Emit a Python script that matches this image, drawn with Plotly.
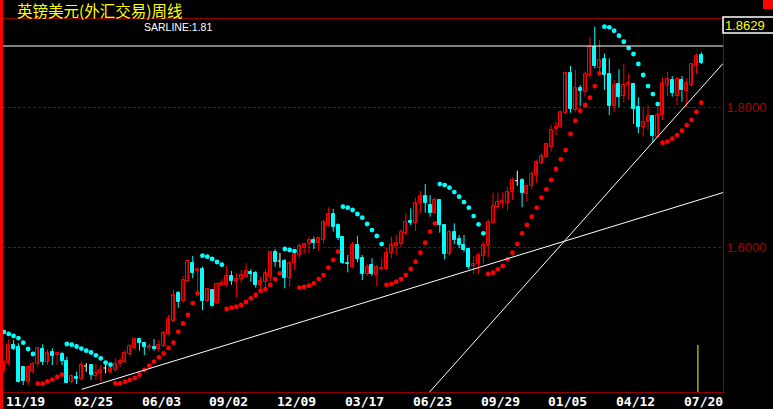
import plotly.graph_objects as go

# ---------------- data (weekly GBP/USD) ----------------
date_labels = ["11/19", "02/25", "06/03", "09/02", "12/09", "03/17",
               "06/23", "09/29", "01/05", "04/12", "07/20"]
date_label_idx = [0, 14, 28, 42, 56, 70, 84, 98, 112, 126, 140]

opens = [1.4233,1.4352,1.4604,1.4580,1.4286,1.4080,1.4233,1.4329,1.4543,1.4366,
1.4500,1.4462,1.4476,1.4376,1.4072,1.4152,1.4114,1.4304,1.4319,1.4166,
1.4200,1.4276,1.4223,1.4247,1.4333,1.4366,1.4469,1.4557,1.4690,1.4629,
1.4557,1.4580,1.4543,1.4590,1.4762,1.4952,1.5343,1.5233,1.5523,1.5772,
1.5662,1.5690,1.5233,1.5390,1.5209,1.5462,1.5462,1.5590,1.5500,1.5543,
1.5580,1.5652,1.5637,1.5462,1.5500,1.5580,1.5929,1.5804,1.5804,1.5566,
1.5772,1.5890,1.5994,1.6043,1.6104,1.6066,1.6104,1.6319,1.6476,1.6319,
1.6152,1.5780,1.5723,1.6033,1.5847,1.5619,1.5747,1.5604,1.5686,1.5694,
1.5923,1.6019,1.6047,1.6209,1.6380,1.6352,1.6637,1.6733,1.6604,1.6494,
1.6676,1.6319,1.5904,1.6223,1.6119,1.6033,1.5972,1.5733,1.5762,1.5876,
1.6033,1.6352,1.6580,1.6629,1.6637,1.6794,1.6952,1.6962,1.6757,1.6880,
1.7033,1.7209,1.7294,1.7429,1.7686,1.7714,1.7923,1.8494,1.7962,1.8280,
1.8223,1.8462,1.8866,1.8557,1.8686,1.8476,1.8019,1.8333,1.8162,1.8319,
1.8333,1.8000,1.7714,1.7794,1.7876,1.7580,1.7890,1.8319,1.8390,1.8162,
1.8390,1.8237,1.8319,1.8594,1.8747]

highs = [1.4390,1.4686,1.4676,1.4629,1.4290,1.4304,1.4366,1.4566,1.4614,1.4543,
1.4557,1.4490,1.4509,1.4437,1.4186,1.4223,1.4366,1.4347,1.4329,1.4329,
1.4319,1.4329,1.4294,1.4414,1.4423,1.4533,1.4619,1.4704,1.4709,1.4643,
1.4623,1.4690,1.4676,1.4809,1.5033,1.5400,1.5376,1.5590,1.5829,1.5876,
1.5700,1.5723,1.5419,1.5404,1.5490,1.5547,1.5733,1.5662,1.5629,1.5676,
1.5772,1.5690,1.5662,1.5580,1.5690,1.5937,1.5976,1.5919,1.5833,1.5794,
1.5929,1.6057,1.6066,1.6152,1.6152,1.6152,1.6390,1.6572,1.6547,1.6343,
1.6162,1.5890,1.6080,1.6166,1.5890,1.5762,1.5843,1.5747,1.5843,1.5994,
1.6152,1.6176,1.6257,1.6486,1.6557,1.6709,1.6804,1.6904,1.6747,1.6714,
1.6686,1.6330,1.6247,1.6343,1.6176,1.6176,1.5986,1.5876,1.5923,1.6080,
1.6400,1.6780,1.6780,1.6794,1.6866,1.7000,1.7094,1.6986,1.6914,1.7080,
1.7247,1.7343,1.7494,1.7747,1.7786,1.7952,1.8509,1.8590,1.8533,1.8319,
1.8509,1.9000,1.9152,1.8962,1.8772,1.8700,1.8390,1.8543,1.8619,1.8476,
1.8340,1.8143,1.8000,1.8033,1.7886,1.8009,1.8429,1.8509,1.8447,1.8429,
1.8447,1.8414,1.8629,1.8772,1.8786]

lows = [1.4204,1.4319,1.4533,1.4069,1.4033,1.4033,1.4200,1.4294,1.4319,1.4319,
1.4319,1.4319,1.4319,1.4062,1.4057,1.4047,1.4104,1.4223,1.4104,1.4104,
1.4080,1.4200,1.4200,1.4223,1.4294,1.4347,1.4447,1.4547,1.4523,1.4462,
1.4519,1.4523,1.4509,1.4572,1.4747,1.4933,1.5137,1.5209,1.5509,1.5557,
1.5347,1.5104,1.5223,1.5152,1.5190,1.5447,1.5437,1.5462,1.5286,1.5486,
1.5569,1.5509,1.5423,1.5390,1.5404,1.5519,1.5723,1.5709,1.5414,1.5437,
1.5676,1.5843,1.5900,1.5914,1.5976,1.5952,1.6057,1.6294,1.6223,1.6104,
1.5762,1.5643,1.5700,1.5786,1.5533,1.5590,1.5590,1.5447,1.5666,1.5676,
1.5843,1.5890,1.6000,1.6176,1.6319,1.6233,1.6494,1.6494,1.6437,1.6486,
1.6209,1.5829,1.5876,1.6047,1.5986,1.5937,1.5686,1.5619,1.5619,1.5772,
1.5857,1.6333,1.6543,1.6557,1.6523,1.6676,1.6880,1.6572,1.6652,1.6829,
1.6923,1.7190,1.7286,1.7366,1.7604,1.7700,1.7914,1.7923,1.7937,1.8019,
1.8152,1.8414,1.8557,1.8462,1.8247,1.7890,1.7937,1.8000,1.8066,1.8104,
1.7762,1.7629,1.7580,1.7676,1.7494,1.7572,1.7819,1.8162,1.8152,1.8033,
1.8080,1.8000,1.8294,1.8476,1.8619]

closes = [1.4366,1.4604,1.4543,1.4080,1.4090,1.4286,1.4329,1.4557,1.4366,1.4486,
1.4452,1.4486,1.4380,1.4066,1.4166,1.4119,1.4319,1.4304,1.4176,1.4200,
1.4247,1.4276,1.4280,1.4333,1.4383,1.4497,1.4590,1.4686,1.4637,1.4572,
1.4590,1.4543,1.4604,1.4772,1.4972,1.5319,1.5223,1.5533,1.5804,1.5637,
1.5690,1.5233,1.5400,1.5166,1.5476,1.5486,1.5590,1.5523,1.5543,1.5604,
1.5662,1.5619,1.5462,1.5519,1.5637,1.5929,1.5794,1.5804,1.5557,1.5772,
1.5900,1.6019,1.6047,1.6104,1.6066,1.6129,1.6366,1.6476,1.6294,1.6129,
1.5772,1.5757,1.6033,1.5833,1.5619,1.5723,1.5619,1.5714,1.5709,1.5914,
1.6033,1.6066,1.6223,1.6357,1.6343,1.6629,1.6733,1.6637,1.6486,1.6676,
1.6319,1.5904,1.6223,1.6104,1.6033,1.5962,1.5723,1.5762,1.5890,1.6033,
1.6366,1.6590,1.6643,1.6662,1.6794,1.6962,1.6952,1.6772,1.6876,1.7047,
1.7223,1.7304,1.7476,1.7676,1.7723,1.7929,1.8494,1.7972,1.8272,1.8233,
1.8476,1.8857,1.8590,1.8676,1.8462,1.8019,1.8319,1.8152,1.8319,1.8352,
1.7972,1.7714,1.7786,1.7876,1.7594,1.7890,1.8343,1.8400,1.8200,1.8400,
1.8247,1.8343,1.8619,1.8733,1.8629]

# Parabolic SAR values
sar = [1.4790,1.4762,1.4733,1.4704,1.4637,1.4547,1.4476,
1.4052,1.4052,1.4086,1.4109,1.4150,1.4180,
1.4619,1.4609,1.4583,1.4554,1.4523,1.4497,1.4457,1.4414,1.4354,1.4323,
1.4057,1.4057,1.4080,1.4104,1.4133,1.4180,1.4247,1.4309,1.4366,1.4429,
1.4486,1.4562,1.4637,1.4794,1.4912,1.5033,1.5204,1.5343,
1.5880,1.5866,1.5833,1.5790,1.5752,
1.5119,1.5137,1.5152,1.5176,1.5219,1.5272,1.5319,1.5376,1.5404,1.5462,1.5547,1.5629,
1.5976,1.5962,1.5947,
1.5423,1.5433,1.5452,1.5486,1.5547,1.5604,1.5709,1.5819,1.5937,
1.6580,1.6566,1.6533,1.6476,1.6423,1.6333,1.6247,1.6162,1.6047,
1.5462,1.5476,1.5509,1.5547,1.5604,1.5690,1.5794,1.5923,1.6066,1.6223,1.6343,
1.6904,1.6890,1.6852,1.6790,1.6723,1.6647,1.6566,1.6447,1.6329,1.6200,
1.5619,1.5637,1.5686,1.5733,1.5829,1.5923,1.6047,1.6200,1.6319,1.6437,1.6566,1.6709,
1.6829,1.6962,1.7119,1.7257,1.7390,1.7619,1.7809,1.7952,1.8033,1.8137,1.8304,1.8486,
1.9152,1.9143,1.9094,1.9023,1.8937,1.8847,1.8762,1.8619,1.8462,1.8304,1.8190,1.8047,
1.7494,1.7509,1.7552,1.7604,1.7666,1.7747,1.7819,1.7933,1.8066]

# drawn lines (index, price)
resistance_level = 1.8876
trend1_x = [16.06, 148.5]
trend1_y = [1.3971, 1.6783]
trend2_x = [87.9, 148.5]
trend2_y = [1.3933, 1.8627]
cursor_idx = 143.3
cursor_top = 1.4604

grid_levels = [1.6, 1.8]
y_min, y_max = 1.3933, 1.9262
x_min, x_max = -0.186, 148.48

title_text = "英镑美元(外汇交易)周线"
sar_label = "SARLINE:1.81"

# ---------------- figure ----------------
RED = "#ff0000"
CYAN = "#00ffff"
DARKRED = "#900000"

idx = list(range(len(closes)))
up = [i for i in idx if closes[i] > opens[i]]
dn = [i for i in idx if closes[i] < opens[i]]
fl = [i for i in idx if closes[i] == opens[i]]


def wick_xy(ids):
    xs, ys = [], []
    for i in ids:
        xs += [i, i, None]
        ys += [lows[i], highs[i], None]
    return xs, ys


fig = go.Figure()

# wicks
for ids, col in ((up, RED), (dn, CYAN), (fl, "#ffffff")):
    wx, wy = wick_xy(ids)
    fig.add_trace(go.Scatter(x=wx, y=wy, mode="lines",
                             line=dict(color=col, width=1), hoverinfo="skip"))

# bodies
fig.add_trace(go.Bar(x=up, y=[closes[i] - opens[i] for i in up],
                     base=[opens[i] for i in up], width=0.62,
                     marker=dict(color="black", line=dict(color=RED, width=1))))
fig.add_trace(go.Bar(x=dn, y=[opens[i] - closes[i] for i in dn],
                     base=[closes[i] for i in dn], width=0.62,
                     marker=dict(color=CYAN, line=dict(color=CYAN, width=1))))
# doji ticks
dx, dy = [], []
for i in fl:
    dx += [i - 0.45, i, None]
    dy += [opens[i], opens[i], None]
fig.add_trace(go.Scatter(x=dx, y=dy, mode="lines",
                         line=dict(color="#ffffff", width=1)))

# SAR dots
sar_up = [s if s < c else None for s, c in zip(sar, closes)]
sar_dn = [s if s >= c else None for s, c in zip(sar, closes)]
fig.add_trace(go.Scatter(x=idx, y=sar_up, mode="markers",
                         marker=dict(color=RED, size=4.8, symbol="circle", line=dict(width=0))))
fig.add_trace(go.Scatter(x=idx, y=sar_dn, mode="markers",
                         marker=dict(color=CYAN, size=4.8, symbol="circle", line=dict(width=0))))

# drawn lines
fig.add_trace(go.Scatter(x=[x_min, x_max], y=[resistance_level, resistance_level],
                         mode="lines", line=dict(color="white", width=1)))
fig.add_trace(go.Scatter(x=trend1_x, y=trend1_y, mode="lines",
                         line=dict(color="white", width=1)))
fig.add_trace(go.Scatter(x=trend2_x, y=trend2_y, mode="lines",
                         line=dict(color="white", width=1)))
fig.add_trace(go.Scatter(x=[cursor_idx, cursor_idx], y=[y_min, cursor_top], mode="lines",
                         line=dict(color="#ffff00", width=1)))

W, H = 773, 409
ML, MR, MT, MB = 3, 50, 19, 17
PW, PH = W - ML - MR, H - MT - MB


def px_x(p):
    return (p - ML) / PW


def px_y(p):
    return (H - MB - p) / PH


annotations = [
    dict(text=title_text, xref="paper", yref="paper", x=px_x(16), y=px_y(9.5),
         xanchor="left", yanchor="middle", showarrow=False, borderpad=0,
         font=dict(family="Noto Sans CJK SC", size=15.5, color="#ffff00")),
    dict(text=sar_label, xref="paper", yref="paper", x=px_x(143), y=px_y(26.5),
         xanchor="left", yanchor="middle", showarrow=False, borderpad=0,
         font=dict(family="Liberation Sans", size=10.5, color="white")),
    dict(text=f"{closes[-1]:.4f}", xref="paper", yref="paper", x=px_x(745), y=px_y(25),
         xanchor="center", yanchor="middle", showarrow=False,
         font=dict(family="Liberation Sans", size=13, color="#ffff00")),
    # red block in the top-right corner
    dict(text="", xref="paper", yref="paper", x=px_x(763), y=px_y(0),
         xanchor="left", yanchor="top", showarrow=False, width=10, height=9,
         bgcolor=RED, borderpad=0, borderwidth=0),
]
for lab, i in zip(date_labels, date_label_idx):
    annotations.append(dict(text="<b>" + lab + "</b>", xref="x", yref="paper", x=i, y=px_y(401),
                            xanchor="left", yanchor="middle", xshift=0, showarrow=False,
                            font=dict(family="DejaVu Sans Mono", size=13, color="white")))

shapes = [
    # left red bar
    dict(type="rect", xref="paper", yref="paper", x0=px_x(0), x1=px_x(3),
         y0=px_y(H), y1=px_y(0), fillcolor=RED, line=dict(width=0), layer="above"),
    # top-right red block
    dict(type="rect", xref="paper", yref="paper", x0=px_x(763), x1=px_x(773),
         y0=px_y(9), y1=px_y(0), fillcolor=RED, line=dict(width=0), layer="above"),
    # price box
    dict(type="rect", xref="paper", yref="paper", x0=px_x(723), x1=px_x(775),
         y0=px_y(33), y1=px_y(17), line=dict(color="white", width=1.5), layer="above"),
]

fig.update_layout(
    width=W, height=H, autosize=False,
    margin=dict(l=ML, r=MR, t=MT, b=MB, pad=0),
    paper_bgcolor="black", plot_bgcolor="black",
    showlegend=False, barmode="overlay", bargap=0,
    annotations=annotations, shapes=shapes,
    xaxis=dict(range=[x_min, x_max], showgrid=False, zeroline=False,
               showticklabels=False, ticks="", showline=True, linecolor=DARKRED,
               linewidth=1, mirror=True, fixedrange=True),
    yaxis=dict(range=[y_min, y_max], side="right", tickvals=grid_levels,
               tickformat=".4f", ticks="", showgrid=True, gridcolor=DARKRED,
               griddash="3px,2px", gridwidth=1, zeroline=False,
               showline=True, linecolor=DARKRED, linewidth=1, mirror=True,
               tickfont=dict(family="Liberation Sans", size=13, color="#a80000"),
               fixedrange=True),
)

fig.write_html(
    "out.html",
    config={"displayModeBar": False},
    post_script="document.body.style.margin='0px';document.body.style.background='black';",
)
